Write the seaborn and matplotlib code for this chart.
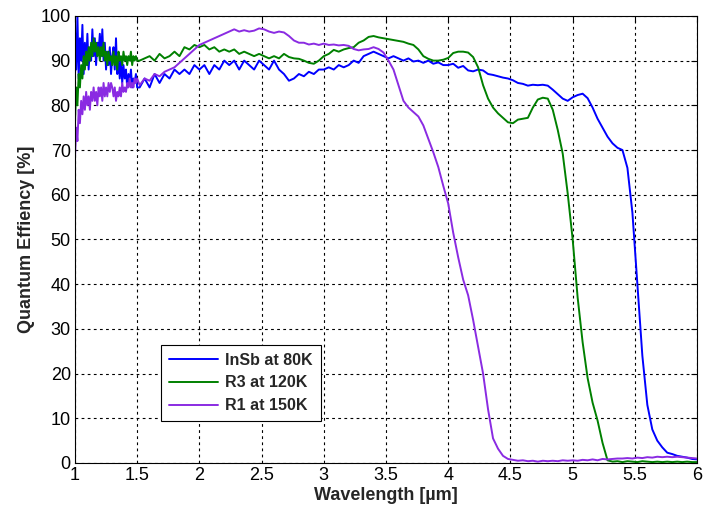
import numpy as np
import pandas as pd
import matplotlib
matplotlib.use("Agg")
import matplotlib.pyplot as plt
import seaborn as sns

# wavelength samples [um]: fine steps at the noisy start, then 0.04 steps
wl_start = [1.00, 1.01, 1.02, 1.03, 1.04, 1.05, 1.06, 1.07, 1.08, 1.09,
            1.10, 1.11, 1.12, 1.13, 1.14, 1.15, 1.16, 1.17, 1.18, 1.19,
            1.20, 1.21, 1.22, 1.23, 1.24, 1.25, 1.26, 1.27, 1.28, 1.29,
            1.30, 1.31, 1.32, 1.33, 1.34, 1.35, 1.36, 1.37, 1.38, 1.39,
            1.40, 1.41, 1.42, 1.43, 1.44, 1.45, 1.46, 1.47, 1.48, 1.49, 1.50]
wl_rest = [1.52, 1.56, 1.60, 1.64, 1.68,
           1.72, 1.76, 1.80, 1.84, 1.88, 1.92, 1.96, 2.00, 2.04, 2.08,
           2.12, 2.16, 2.20, 2.24, 2.28, 2.32, 2.36, 2.40, 2.44, 2.48,
           2.52, 2.56, 2.60, 2.64, 2.68, 2.72, 2.76, 2.80, 2.84, 2.88,
           2.92, 2.96, 3.00, 3.04, 3.08, 3.12, 3.16, 3.20, 3.24, 3.28,
           3.32, 3.36, 3.40, 3.44, 3.48, 3.52, 3.56, 3.60, 3.64, 3.68,
           3.72, 3.76, 3.80, 3.84, 3.88, 3.92, 3.96, 4.00, 4.04, 4.08,
           4.12, 4.16, 4.20, 4.24, 4.28, 4.32, 4.36, 4.40, 4.44, 4.48,
           4.52, 4.56, 4.60, 4.64, 4.68, 4.72, 4.76, 4.80, 4.84, 4.88,
           4.92, 4.96, 5.00, 5.04, 5.08, 5.12, 5.16, 5.20, 5.24, 5.28,
           5.32, 5.36, 5.40, 5.44, 5.48, 5.52, 5.56, 5.60, 5.64, 5.68,
           5.72, 5.76, 5.80, 5.84, 5.88, 5.92, 5.96, 6.00]
wavelength = wl_start + wl_rest

# InSb at 80K
qe_insb = [97, 88, 100, 86, 95, 90, 98, 87, 94, 89,
           96, 88, 93, 90, 97, 91, 95, 89, 94, 92,
           96, 91, 97, 90, 94, 88, 92, 89, 93, 87,
           91, 93, 88, 95, 87, 91, 86, 90, 85, 89,
           86, 88, 84, 87, 85, 88, 84, 86, 85, 87, 84,
           84, 86, 84, 87, 85,
           87, 86, 88, 87, 88,
           87, 89, 88, 89, 87,
           89, 88, 90, 89, 90,
           88, 90, 89, 88, 90,
           89, 88, 90, 88, 87,
           85.5, 86, 87, 86.5, 87.5,
           87, 88, 88, 88.5, 88,
           89, 88.5, 89, 90, 89.5,
           91, 91.5, 92, 91.5, 91,
           90.5, 91, 90.5, 90, 90.5,
           89.8, 90, 89.5, 90, 89.3,
           89.6, 89, 89, 89.3, 88.4,
           88.8, 87.8, 87.6, 88, 87.8,
           87, 86.8, 86.5, 86.2, 86,
           85.6, 85, 84.8, 84.4, 84.6,
           84.5, 84.6, 84.4, 83.5, 82.5,
           81.5, 81, 81.8, 82.3, 82.6,
           81.6, 79.5, 77, 75, 73,
           71.5, 70.5, 70, 66, 56,
           40, 24, 13, 7.5, 5,
           3.5, 2.3, 2, 1.6, 1.4,
           1.2, 0.9, 0.8]

# R3 at 120K
qe_r3 = [76, 84, 80, 87, 84, 89, 86, 91, 88, 92,
         89, 93, 90, 94, 91, 95, 92, 94, 91, 93,
         90, 93, 91, 94, 90, 92, 89, 92, 90, 91,
         89, 92, 89, 91, 88, 92, 90, 91, 89, 92,
         90, 91, 89, 91, 90, 92, 89, 91, 90, 91, 90,
         90, 90.5, 91, 90, 91.5,
         90.5, 91, 92, 91, 93,
         92.5, 93.5, 93, 93.5, 92.5,
         93, 92, 92.5, 92, 92.5,
         91.5, 92, 91.5, 91, 91.5,
         91, 90.5, 91, 90.5, 91.5,
         90.8, 90.5, 90.4, 90, 89.5,
         89.3, 90, 91, 91.5, 92.4,
         92, 92.5, 92.8, 93, 94,
         94.5, 95.3, 95.5, 95.2, 95,
         94.8, 94.6, 94.4, 94.2, 93.8,
         93.5, 92.5, 91, 90.4, 90,
         90, 90.2, 90.6, 91.7, 92,
         92, 91.8, 90.8, 88.5, 84.5,
         81.5, 79.5, 78.2, 77.2, 76.2,
         76, 76.8, 77, 77.2, 79.5,
         81.3, 81.7, 81.5, 79, 74.5,
         69.2, 60.3, 50, 37, 27,
         19, 13.5, 9.5, 4.5, 0.6,
         0.3, 0.4, 0.2, 0.4, 0.3,
         0.2, 0.4, 0.3, 0.2, 0.3,
         0.2, 0.3, 0.2, 0.3, 0.2,
         0.3, 0.2, 0.2]

# R1 at 150K
qe_r1 = [68, 75, 72, 79, 76, 81, 78, 82, 79, 83,
         80, 82, 79, 83, 81, 84, 81, 83, 80, 84,
         82, 84, 81, 85, 82, 84, 82, 85, 83, 85,
         84, 82, 84, 81, 83, 82, 84, 82, 85, 83,
         84, 83, 85, 84, 86, 84, 85, 84, 86, 85, 86,
         84.5, 86, 85.5, 87, 86.5,
         87.5, 88, 88.5, 89.5, 90.5,
         91.5, 92.5, 93.5, 94, 94.5,
         95, 95.5, 96, 96.5, 97,
         96.5, 96.8, 96.5, 96.7, 97.2,
         97, 96.5, 96.2, 96.5, 96.3,
         95.5, 94.5, 94, 94, 93.6,
         93.8, 93.5, 93.8, 93.5, 93.6,
         93.4, 93.5, 93.3, 92.6, 92.3,
         92.5, 92.6, 93, 92.6, 91.8,
         90, 88, 84.5, 81, 79.5,
         78.5, 77.5, 75.5, 72.5, 69.5,
         66.2, 62, 58, 51.5, 46,
         41, 37.5, 32, 26, 20,
         12, 5.5, 3.2, 1.6, 0.9,
         0.7, 0.5, 0.6, 0.4, 0.5,
         0.3, 0.5, 0.4, 0.5, 0.4,
         0.6, 0.5, 0.6, 0.5, 0.7,
         0.6, 0.8, 0.6, 0.9, 0.8,
         0.9, 1.0, 1.0, 1.1, 1.0,
         1.2, 1.1, 1.3, 1.2, 1.4,
         1.3, 1.4, 1.3, 1.4, 1.3,
         1.2, 1.1, 1.0]

series_names = ["InSb at 80K", "R3 at 120K", "R1 at 150K"]
series_colors = ["#0000ff", "#008000", "#8a2be2"]

x_ticks = [1, 1.5, 2, 2.5, 3, 3.5, 4, 4.5, 5, 5.5, 6]
x_tick_labels = ["1", "1.5", "2", "2.5", "3", "3.5", "4", "4.5", "5", "5.5", "6"]
y_ticks = [0, 10, 20, 30, 40, 50, 60, 70, 80, 90, 100]


if __name__ == "__main__":
    frames = []
    for name, values in zip(series_names, [qe_insb, qe_r3, qe_r1]):
        frames.append(pd.DataFrame({
            "Wavelength": wavelength,
            "QE": values,
            "Sample": name
        }))
    data = pd.concat(frames, ignore_index=True)

    sns.set_style("white")
    plt.rcParams["font.family"] = ["Liberation Sans Narrow", "Liberation Sans", "DejaVu Sans"]

    fig = plt.figure(figsize=(7.07, 5.13), dpi=100)
    ax = fig.add_axes([0.106, 0.0975, 0.880, 0.8715])

    sns.lineplot(
        data=data,
        x="Wavelength",
        y="QE",
        hue="Sample",
        hue_order=series_names,
        palette=series_colors,
        estimator=None,
        sort=False,
        linewidth=1.4,
        ax=ax
    )

    ax.set_xlim(1, 6)
    ax.set_ylim(0, 100)
    ax.set_xticks(x_ticks)
    ax.set_xticklabels(x_tick_labels)
    ax.set_yticks(y_ticks)
    ax.tick_params(direction="in", length=4, labelsize=13, colors="black",
                   top=True, right=True, pad=3)
    ax.grid(True, color="black", linestyle=(0, (2.5, 3)), linewidth=0.8)

    for spine in ax.spines.values():
        spine.set_color("black")
        spine.set_linewidth(0.8)

    ax.set_xlabel("Wavelength [\u00b5m]", fontsize=13, fontweight="bold",
                  family=["Liberation Sans", "DejaVu Sans"], labelpad=2)
    ax.set_ylabel("Quantum Effiency [%]", fontsize=13, fontweight="bold",
                  family=["Liberation Sans", "DejaVu Sans"], labelpad=4)

    leg = ax.legend(
        loc="lower left",
        bbox_to_anchor=(0.125, 0.075),
        frameon=True,
        fancybox=False,
        edgecolor="black",
        framealpha=1,
        handlelength=3.1,
        handletextpad=0.45,
        borderpad=0.5,
        labelspacing=0.5,
        prop={"family": ["Liberation Sans", "DejaVu Sans"], "weight": "bold", "size": 11.5}
    )
    leg.get_frame().set_linewidth(0.8)

    fig.savefig("out.png", dpi=100)
    plt.close(fig)
